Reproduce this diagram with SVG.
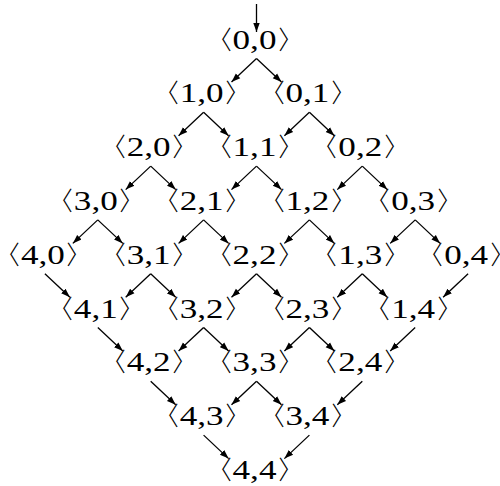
<svg xmlns="http://www.w3.org/2000/svg" width="500" height="486" viewBox="0 0 500 486">
<defs>
<marker id="ah" markerWidth="10" markerHeight="8" refX="9" refY="4" orient="auto" markerUnits="userSpaceOnUse">
<path d="M0,0.8 L9,4 L0,7.2 Z" fill="#000"/>
</marker>
<style>
.n text{font-family:"Liberation Serif",serif;font-size:27px;fill:#000;text-anchor:middle}
#edges line{stroke:#000;stroke-width:1.3;marker-end:url(#ah)}
</style>
</defs>
<rect width="500" height="486" fill="#fff"/>
<g id="edges">
<line x1="256.5" y1="4" x2="256.5" y2="32"/>
<line x1="256.5" y1="58.5" x2="231.5" y2="82"/><line x1="256.5" y1="58.5" x2="281.5" y2="82"/>
<line x1="203.6" y1="112.3" x2="178.6" y2="135.8"/><line x1="203.6" y1="112.3" x2="228.6" y2="135.8"/>
<line x1="309.4" y1="112.3" x2="284.4" y2="135.8"/><line x1="309.4" y1="112.3" x2="334.4" y2="135.8"/>
<line x1="150.7" y1="166.1" x2="125.7" y2="189.6"/><line x1="150.7" y1="166.1" x2="175.7" y2="189.6"/>
<line x1="256.5" y1="166.1" x2="231.5" y2="189.6"/><line x1="256.5" y1="166.1" x2="281.5" y2="189.6"/>
<line x1="362.3" y1="166.1" x2="337.3" y2="189.6"/><line x1="362.3" y1="166.1" x2="387.3" y2="189.6"/>
<line x1="97.8" y1="219.9" x2="72.8" y2="243.4"/><line x1="97.8" y1="219.9" x2="122.8" y2="243.4"/>
<line x1="203.6" y1="219.9" x2="178.6" y2="243.4"/><line x1="203.6" y1="219.9" x2="228.6" y2="243.4"/>
<line x1="309.4" y1="219.9" x2="284.4" y2="243.4"/><line x1="309.4" y1="219.9" x2="334.4" y2="243.4"/>
<line x1="415.2" y1="219.9" x2="390.2" y2="243.4"/><line x1="415.2" y1="219.9" x2="440.2" y2="243.4"/>
<line x1="44.9" y1="273.7" x2="69.9" y2="297.2"/>
<line x1="150.7" y1="273.7" x2="125.7" y2="297.2"/><line x1="150.7" y1="273.7" x2="175.7" y2="297.2"/>
<line x1="256.5" y1="273.7" x2="231.5" y2="297.2"/><line x1="256.5" y1="273.7" x2="281.5" y2="297.2"/>
<line x1="362.3" y1="273.7" x2="337.3" y2="297.2"/><line x1="362.3" y1="273.7" x2="387.3" y2="297.2"/>
<line x1="468.1" y1="273.7" x2="443.1" y2="297.2"/>
<line x1="97.8" y1="327.5" x2="122.8" y2="351"/>
<line x1="203.6" y1="327.5" x2="178.6" y2="351"/><line x1="203.6" y1="327.5" x2="228.6" y2="351"/>
<line x1="309.4" y1="327.5" x2="284.4" y2="351"/><line x1="309.4" y1="327.5" x2="334.4" y2="351"/>
<line x1="415.2" y1="327.5" x2="390.2" y2="351"/>
<line x1="150.7" y1="381.3" x2="175.7" y2="404.8"/>
<line x1="256.5" y1="381.3" x2="231.5" y2="404.8"/><line x1="256.5" y1="381.3" x2="281.5" y2="404.8"/>
<line x1="362.3" y1="381.3" x2="337.3" y2="404.8"/>
<line x1="203.6" y1="435.1" x2="228.6" y2="458.6"/>
<line x1="309.4" y1="435.1" x2="284.4" y2="458.6"/>
</g>
<g id="n00" class="n" transform="translate(254.5,48.5)"><text transform="scale(1.3,1)"><tspan x="-28.8">〈</tspan><tspan x="0">0,0</tspan><tspan x="29.2">〉</tspan></text></g>
<g id="n10" class="n" transform="translate(201.6,102.3)"><text transform="scale(1.3,1)"><tspan x="-28.8">〈</tspan><tspan x="0">1,0</tspan><tspan x="29.2">〉</tspan></text></g>
<g id="n01" class="n" transform="translate(307.4,102.3)"><text transform="scale(1.3,1)"><tspan x="-28.8">〈</tspan><tspan x="0">0,1</tspan><tspan x="29.2">〉</tspan></text></g>
<g id="n20" class="n" transform="translate(148.7,156.1)"><text transform="scale(1.3,1)"><tspan x="-28.8">〈</tspan><tspan x="0">2,0</tspan><tspan x="29.2">〉</tspan></text></g>
<g id="n11" class="n" transform="translate(254.5,156.1)"><text transform="scale(1.3,1)"><tspan x="-28.8">〈</tspan><tspan x="0">1,1</tspan><tspan x="29.2">〉</tspan></text></g>
<g id="n02" class="n" transform="translate(360.3,156.1)"><text transform="scale(1.3,1)"><tspan x="-28.8">〈</tspan><tspan x="0">0,2</tspan><tspan x="29.2">〉</tspan></text></g>
<g id="n30" class="n" transform="translate(95.8,209.9)"><text transform="scale(1.3,1)"><tspan x="-28.8">〈</tspan><tspan x="0">3,0</tspan><tspan x="29.2">〉</tspan></text></g>
<g id="n21" class="n" transform="translate(201.6,209.9)"><text transform="scale(1.3,1)"><tspan x="-28.8">〈</tspan><tspan x="0">2,1</tspan><tspan x="29.2">〉</tspan></text></g>
<g id="n12" class="n" transform="translate(307.4,209.9)"><text transform="scale(1.3,1)"><tspan x="-28.8">〈</tspan><tspan x="0">1,2</tspan><tspan x="29.2">〉</tspan></text></g>
<g id="n03" class="n" transform="translate(413.2,209.9)"><text transform="scale(1.3,1)"><tspan x="-28.8">〈</tspan><tspan x="0">0,3</tspan><tspan x="29.2">〉</tspan></text></g>
<g id="n40" class="n" transform="translate(42.9,263.7)"><text transform="scale(1.3,1)"><tspan x="-28.8">〈</tspan><tspan x="0">4,0</tspan><tspan x="29.2">〉</tspan></text></g>
<g id="n31" class="n" transform="translate(148.7,263.7)"><text transform="scale(1.3,1)"><tspan x="-28.8">〈</tspan><tspan x="0">3,1</tspan><tspan x="29.2">〉</tspan></text></g>
<g id="n22" class="n" transform="translate(254.5,263.7)"><text transform="scale(1.3,1)"><tspan x="-28.8">〈</tspan><tspan x="0">2,2</tspan><tspan x="29.2">〉</tspan></text></g>
<g id="n13" class="n" transform="translate(360.3,263.7)"><text transform="scale(1.3,1)"><tspan x="-28.8">〈</tspan><tspan x="0">1,3</tspan><tspan x="29.2">〉</tspan></text></g>
<g id="n04" class="n" transform="translate(466.1,263.7)"><text transform="scale(1.3,1)"><tspan x="-28.8">〈</tspan><tspan x="0">0,4</tspan><tspan x="29.2">〉</tspan></text></g>
<g id="n41" class="n" transform="translate(95.8,317.5)"><text transform="scale(1.3,1)"><tspan x="-28.8">〈</tspan><tspan x="0">4,1</tspan><tspan x="29.2">〉</tspan></text></g>
<g id="n32" class="n" transform="translate(201.6,317.5)"><text transform="scale(1.3,1)"><tspan x="-28.8">〈</tspan><tspan x="0">3,2</tspan><tspan x="29.2">〉</tspan></text></g>
<g id="n23" class="n" transform="translate(307.4,317.5)"><text transform="scale(1.3,1)"><tspan x="-28.8">〈</tspan><tspan x="0">2,3</tspan><tspan x="29.2">〉</tspan></text></g>
<g id="n14" class="n" transform="translate(413.2,317.5)"><text transform="scale(1.3,1)"><tspan x="-28.8">〈</tspan><tspan x="0">1,4</tspan><tspan x="29.2">〉</tspan></text></g>
<g id="n42" class="n" transform="translate(148.7,371.3)"><text transform="scale(1.3,1)"><tspan x="-28.8">〈</tspan><tspan x="0">4,2</tspan><tspan x="29.2">〉</tspan></text></g>
<g id="n33" class="n" transform="translate(254.5,371.3)"><text transform="scale(1.3,1)"><tspan x="-28.8">〈</tspan><tspan x="0">3,3</tspan><tspan x="29.2">〉</tspan></text></g>
<g id="n24" class="n" transform="translate(360.3,371.3)"><text transform="scale(1.3,1)"><tspan x="-28.8">〈</tspan><tspan x="0">2,4</tspan><tspan x="29.2">〉</tspan></text></g>
<g id="n43" class="n" transform="translate(201.6,425.1)"><text transform="scale(1.3,1)"><tspan x="-28.8">〈</tspan><tspan x="0">4,3</tspan><tspan x="29.2">〉</tspan></text></g>
<g id="n34" class="n" transform="translate(307.4,425.1)"><text transform="scale(1.3,1)"><tspan x="-28.8">〈</tspan><tspan x="0">3,4</tspan><tspan x="29.2">〉</tspan></text></g>
<g id="n44" class="n" transform="translate(254.5,478.9)"><text transform="scale(1.3,1)"><tspan x="-28.8">〈</tspan><tspan x="0">4,4</tspan><tspan x="29.2">〉</tspan></text></g>
</svg>
